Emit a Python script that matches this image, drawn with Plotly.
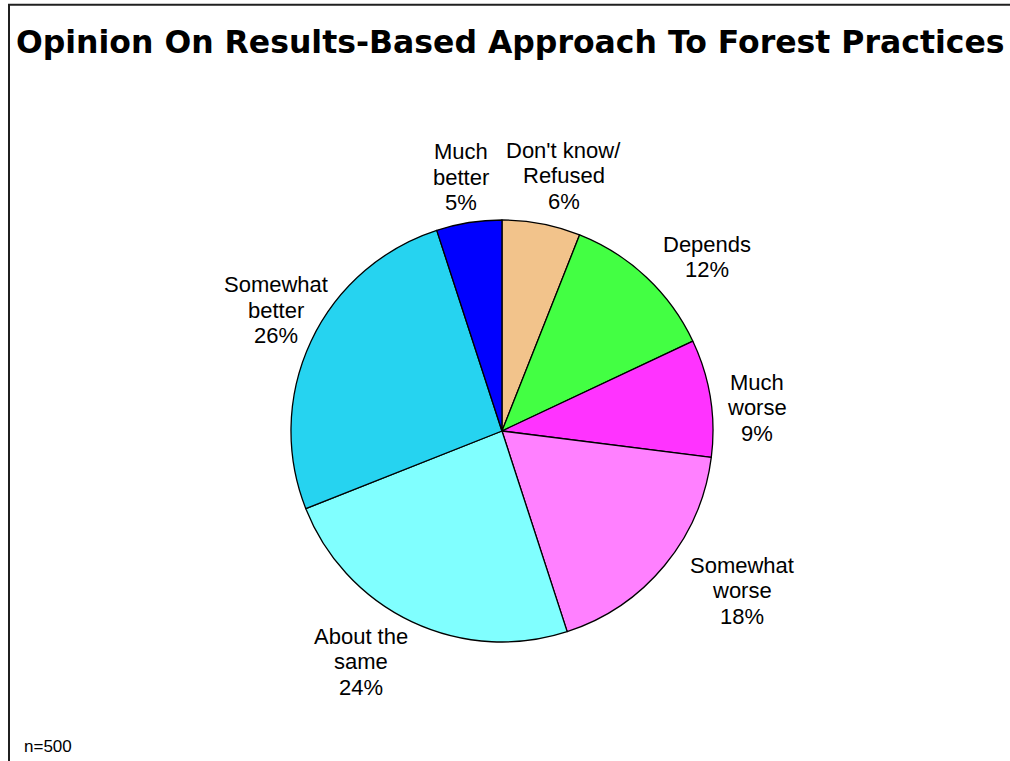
import math
import plotly.graph_objects as go

# ---- data ----
categories = ["Don't know/\nRefused", "Depends", "Much\nworse", "Somewhat\nworse",
              "About the\nsame", "Somewhat\nbetter", "Much\nbetter"]
values = [6, 12, 9, 18, 24, 26, 5]
colors = ["#F2C38B", "#43FF43", "#FF33FF", "#FF80FF", "#80FFFF", "#26D3F0", "#0000FF"]
title_text = "Opinion On Results-Based Approach To Forest Practices"
note_text = "n=500"

# ---- layout / style ----
W, H = 1010, 761
dom_x = [0.2881, 0.7059]
dom_y = [0.1564, 0.7109]
label_radius_factor = 1.256          # label distance from centre relative to pie radius
label_nudge = [(12, 5), (24, 19), (-7, 18), (36, -9), (-28, -9), (14, -8), (0, 8)]  # px (right, down)
line_gap = 25.5
font_family = "Liberation Sans, Arial, sans-serif"

fig = go.Figure(go.Pie(
    labels=[c.replace("\n", " ") for c in categories],
    values=values,
    marker=dict(colors=colors, line=dict(color="black", width=1.3)),
    sort=False,
    direction="clockwise",
    rotation=0,
    textinfo="none",
    hoverinfo="label+percent",
    domain=dict(x=dom_x, y=dom_y),
    showlegend=False,
))

# pie geometry derived from domain
cx = W * (dom_x[0] + dom_x[1]) / 2
cy = H * (1 - (dom_y[0] + dom_y[1]) / 2)
r = min(W * (dom_x[1] - dom_x[0]), H * (dom_y[1] - dom_y[0])) / 2

annotations = []
total = sum(values)
cum = 0
for cat, v, (nx, ny) in zip(categories, values, label_nudge):
    mid = (cum + v / 2) / total * 2 * math.pi
    cum += v
    R = r * label_radius_factor
    px = cx + R * math.sin(mid) + nx
    py = cy - R * math.cos(mid) + ny
    lines = cat.split("\n") + [f"{round(v / total * 100)}%"]
    n = len(lines)
    for i, txt in enumerate(lines):
        ly = py + (i - (n - 1) / 2) * line_gap
        annotations.append(dict(
            x=px / W, y=1 - ly / H, xref="paper", yref="paper",
            text=txt, showarrow=False, xanchor="center", yanchor="middle",
            font=dict(family=font_family, size=22, color="black"),
        ))

annotations.append(dict(
    x=510 / W, y=1 - 42 / H, xref="paper", yref="paper", text=f"<b>{title_text}</b>",
    showarrow=False, xanchor="center", yanchor="middle",
    font=dict(family="DejaVu Sans, sans-serif", size=31.5, color="black"),
))
annotations.append(dict(
    x=22 / W, y=1 - 746 / H, xref="paper", yref="paper", text=note_text,
    showarrow=False, xanchor="left", yanchor="middle",
    font=dict(family=font_family, size=17, color="black"),
))

fig.update_layout(
    width=W, height=H,
    margin=dict(l=0, r=0, t=0, b=0),
    paper_bgcolor="white", plot_bgcolor="white",
    annotations=annotations,
    shapes=[dict(type="rect", xref="paper", yref="paper",
                 x0=9 / W, x1=1.02, y0=-0.02, y1=1 - 4.8 / H,
                 line=dict(color="#202020", width=2))],
)

fig.write_html("out.html", config={"displayModeBar": False},
               post_script="document.body.style.margin='0';document.body.style.overflow='hidden';")
